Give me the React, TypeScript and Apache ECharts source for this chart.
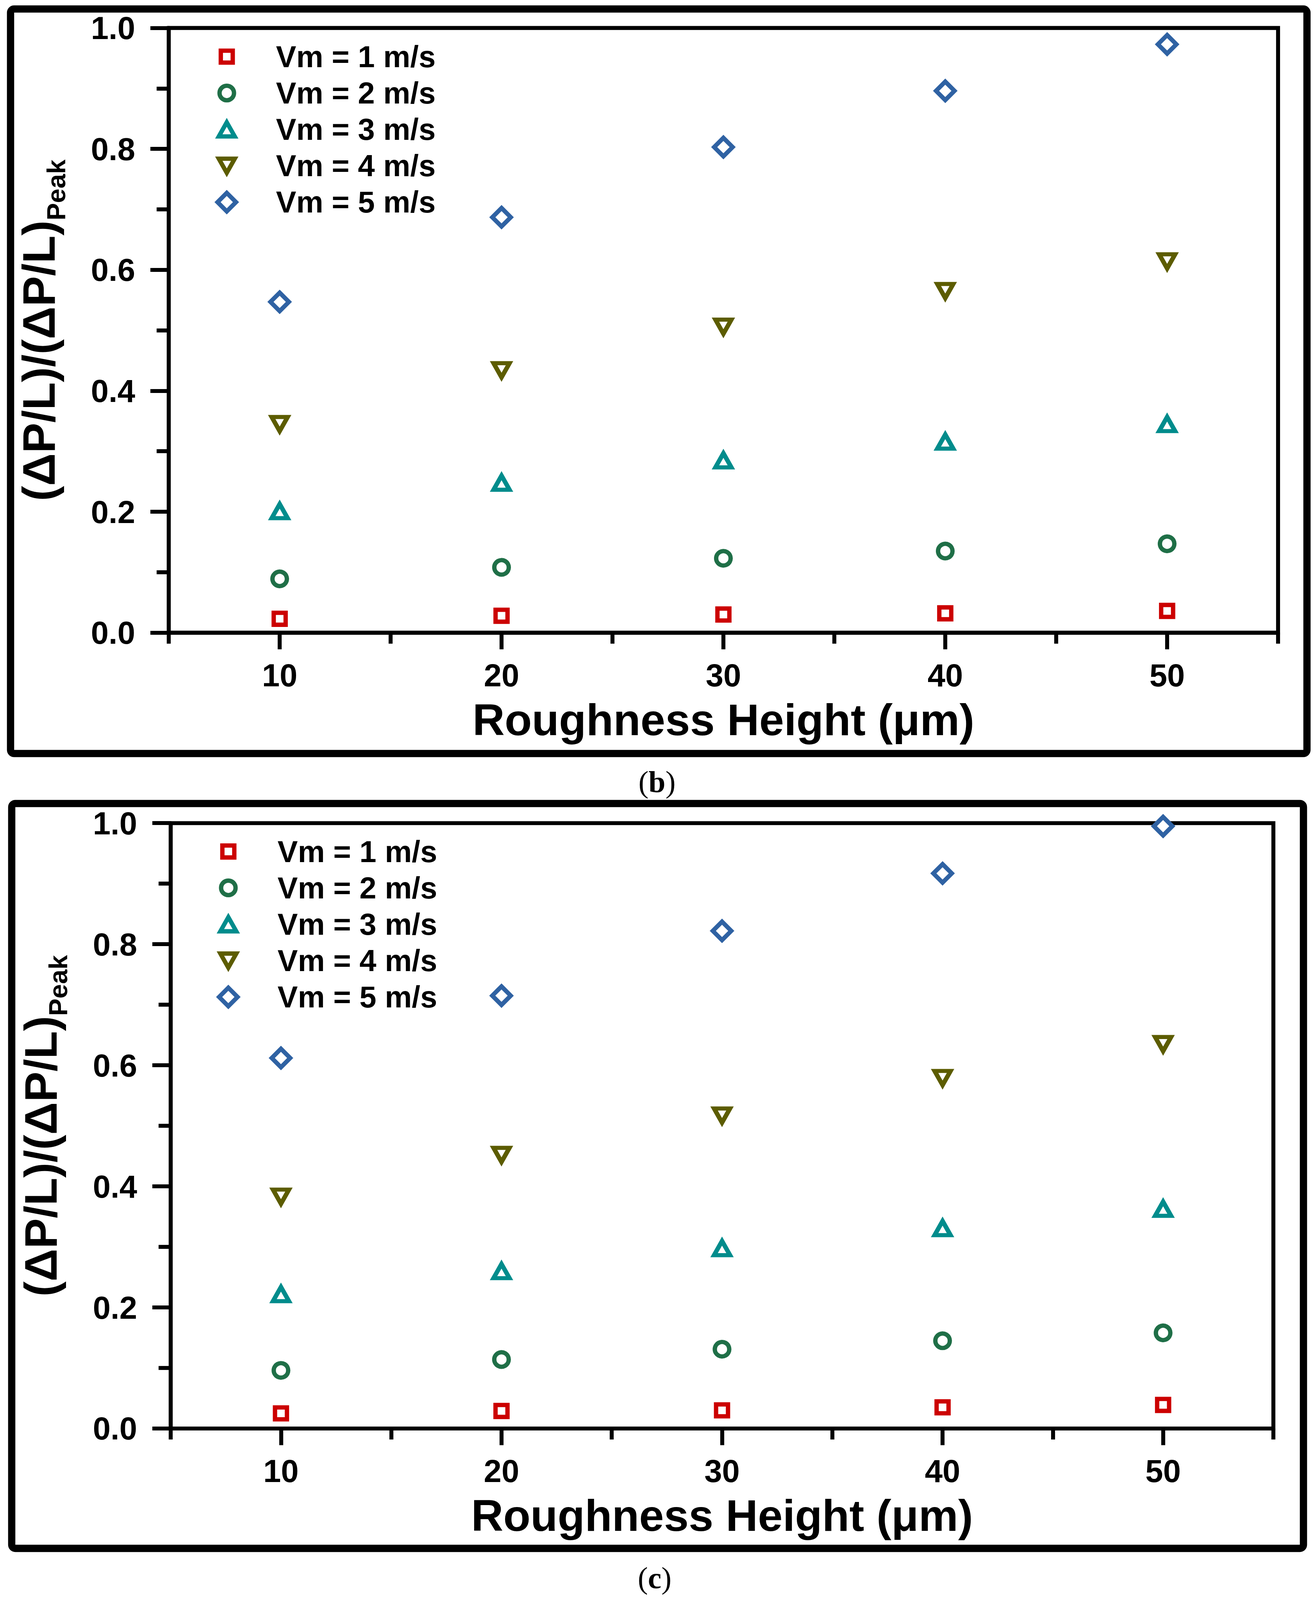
import React, { useEffect, useRef, useState } from "react";
import * as echarts from "echarts";

// ---------- data ----------
const roughness = [10, 20, 30, 40, 50];
const xLabelValues = [10, 20, 30, 40, 50];
const seriesNames = ["Vm = 1 m/s", "Vm = 2 m/s", "Vm = 3 m/s", "Vm = 4 m/s", "Vm = 5 m/s"];
const seriesColors = ["#cc0000", "#1f6f47", "#008c8c", "#5c5c00", "#2f62a3"];

// panel (b)
const panelB_vm1 = [0.023, 0.028, 0.030, 0.032, 0.036];
const panelB_vm2 = [0.089, 0.108, 0.123, 0.135, 0.147];
const panelB_vm3 = [0.201, 0.248, 0.285, 0.316, 0.345];
const panelB_vm4 = [0.345, 0.434, 0.506, 0.565, 0.614];
const panelB_vm5 = [0.547, 0.687, 0.803, 0.896, 0.973];

// panel (c)
const panelC_vm1 = [0.025, 0.029, 0.030, 0.035, 0.039];
const panelC_vm2 = [0.096, 0.114, 0.131, 0.145, 0.158];
const panelC_vm3 = [0.222, 0.260, 0.298, 0.331, 0.363];
const panelC_vm4 = [0.383, 0.452, 0.517, 0.579, 0.635];
const panelC_vm5 = [0.612, 0.715, 0.822, 0.917, 0.995];

const panelCaptions = ["b", "c"];
const xTitle = "Roughness Height (μm)";
const yTitleMain = "(ΔP/L)/(ΔP/L)";
const yTitleSub = "Peak";

// ---------- layout (reference pixel space 3364 x 4805) ----------
const REF_W = 3364;
const REF_H = 4805;
const SANS = "Liberation Sans, Arial, Helvetica, sans-serif";
const SERIF = "Liberation Serif, Times New Roman, serif";

const symbols = ["rect", "circle", "triangle", "triangle", "diamond"];
const symbolRotates = [0, 0, 0, 180, 0];
const symbolSizesRef: number[][] = [[33, 33], [40, 40], [44, 39], [44, 39], [51, 51]];

const panelLayouts = [
  {
    grid: { left: 432, top: 84, width: 2840, height: 1816 },
    legend: { left: 547, firstRowCenter: 170 },
    frame: { x: 27, y: 27, width: 3319, height: 2236 },
    caption: { x: 1682, y: 2349 },
  },
  {
    grid: { left: 437, top: 2472, width: 2823, height: 1818 },
    legend: { left: 551, firstRowCenter: 2557 },
    frame: { x: 30, y: 2413, width: 3307, height: 2237 },
    caption: { x: 1676, y: 4739 },
  },
];

const panelData = [
  [panelB_vm1, panelB_vm2, panelB_vm3, panelB_vm4, panelB_vm5],
  [panelC_vm1, panelC_vm2, panelC_vm3, panelC_vm4, panelC_vm5],
];

function makeIcon(kind: number, bw: number, bh: number, cx: number, cy: number, s: number) {
  const vb = `M0,0M${bw.toFixed(2)},${bh.toFixed(2)}`;
  const f = (v: number) => v.toFixed(2);
  if (kind === 0) {
    const h = 16.5 * s;
    return `path://${vb}M${f(cx - h)},${f(cy - h)}L${f(cx + h)},${f(cy - h)}L${f(cx + h)},${f(cy + h)}L${f(cx - h)},${f(cy + h)}Z`;
  }
  if (kind === 1) {
    const r = 20 * s;
    return `path://${vb}M${f(cx + r)},${f(cy)}A${f(r)},${f(r)},0,1,1,${f(cx - r)},${f(cy)}A${f(r)},${f(r)},0,1,1,${f(cx + r)},${f(cy)}Z`;
  }
  if (kind === 2) {
    const hw = 22 * s;
    const hh = 19.5 * s;
    return `path://${vb}M${f(cx)},${f(cy - hh)}L${f(cx + hw)},${f(cy + hh)}L${f(cx - hw)},${f(cy + hh)}Z`;
  }
  if (kind === 3) {
    const hw = 22 * s;
    const hh = 19.5 * s;
    return `path://${vb}M${f(cx - hw)},${f(cy - hh)}L${f(cx + hw)},${f(cy - hh)}L${f(cx)},${f(cy + hh)}Z`;
  }
  const d = 25.5 * s;
  return `path://${vb}M${f(cx)},${f(cy - d)}L${f(cx + d)},${f(cy)}L${f(cx)},${f(cy + d)}L${f(cx - d)},${f(cy)}Z`;
}

function buildOption(W: number, H: number) {
  const sx = W / REF_W;
  const sy = H / REF_H;
  const fs = (sx + sy) / 2;
  const LW = 11 * fs;
  const MARK_BW = 12 * fs;
  const lineStyle = { color: "#000", width: LW };

  const tickFont = 88 * fs;
  const titleFont = 123 * fs;
  const yMainFont = 126 * fs;
  const ySubFont = 72 * fs;
  const legendFont = 84 * fs;

  const grid: any[] = [];
  const xAxis: any[] = [];
  const yAxis: any[] = [];
  const legend: any[] = [];
  const series: any[] = [];
  const graphic: any[] = [];

  panelLayouts.forEach((p, pi) => {
    grid.push({
      left: p.grid.left * sx,
      top: p.grid.top * sy,
      width: p.grid.width * sx,
      height: p.grid.height * sy,
      show: true,
      borderColor: "#000",
      borderWidth: LW,
      backgroundColor: "transparent",
      containLabel: false,
    });
    xAxis.push({
      type: "value",
      gridIndex: pi,
      position: "bottom",
      offset: 0,
      min: 5,
      max: 55,
      name: xTitle,
      nameLocation: "middle",
      nameGap: 213 * sy - 0.142 * titleFont,
      nameTextStyle: { fontFamily: SANS, fontWeight: "bold", fontSize: titleFont, color: "#000" },
      axisLine: { show: true, onZero: false, lineStyle },
      axisTick: { show: true, inside: false, length: 50 * sy, customValues: xLabelValues, lineStyle },
      axisLabel: {
        show: true,
        customValues: xLabelValues,
        margin: 93 * sy - 0.142 * tickFont,
        fontFamily: SANS,
        fontWeight: "bold",
        fontSize: tickFont,
        color: "#000",
      },
      splitLine: { show: false },
    });
    xAxis.push({
      type: "value",
      gridIndex: pi,
      position: "bottom",
      offset: 0,
      min: 5,
      max: 55,
      interval: 10,
      axisLine: { show: false, onZero: false },
      axisTick: { show: true, inside: false, length: 33 * sy, lineStyle },
      axisLabel: { show: false },
      splitLine: { show: false },
    });
    yAxis.push({
      type: "value",
      gridIndex: pi,
      position: "left",
      min: 0,
      max: 1,
      interval: 0.2,
      name: `{a|${yTitleMain}}{b|${yTitleSub}}`,
      nameLocation: "middle",
      nameRotate: 90,
      nameGap: 333 * sx - 85 * fs,
      nameTextStyle: {
        fontFamily: SANS,
        fontWeight: "bold",
        color: "#000",
        fontSize: yMainFont,
        rich: {
          a: { fontFamily: SANS, fontWeight: "bold", fontSize: yMainFont, lineHeight: 170 * fs, color: "#000" },
          b: {
            fontFamily: SANS,
            fontWeight: "bold",
            fontSize: ySubFont,
            lineHeight: 70 * fs,
            verticalAlign: "bottom",
            color: "#000",
          },
        },
      },
      axisLine: { show: true, onZero: false, lineStyle },
      axisTick: { show: true, inside: false, length: 47 * sx, lineStyle },
      minorTick: { show: true, splitNumber: 2, length: 31 * sx, lineStyle },
      axisLabel: {
        show: true,
        margin: 86 * sx,
        formatter: (v: number) => v.toFixed(1),
        fontFamily: SANS,
        fontWeight: "bold",
        fontSize: tickFont,
        color: "#000",
      },
      splitLine: { show: false },
      minorSplitLine: { show: false },
    });

    const itemW = 149 * sx;
    const itemH = 56 * fs;
    const rowH = Math.max(itemH, legendFont);
    const pitch = 109 * sy;
    legend.push({
      show: true,
      orient: "vertical",
      left: p.legend.left * sx,
      top: p.legend.firstRowCenter * sy - rowH / 2,
      padding: 0,
      itemGap: pitch - rowH,
      itemWidth: itemW,
      itemHeight: itemH,
      selectedMode: false,
      symbolKeepAspect: true,
      textStyle: { fontFamily: SANS, fontWeight: "bold", fontSize: legendFont, lineHeight: legendFont, color: "#000" },
      data: seriesNames.map((name, i) => ({
        name,
        icon: makeIcon(i, itemW, itemH, 28 * sx, itemH / 2, fs),
        itemStyle: {
          color: "#ffffff",
          borderColor: seriesColors[i],
          borderWidth: MARK_BW,
          borderJoin: "miter",
          borderMiterLimit: 10,
        },
      })),
    });

    panelData[pi].forEach((vals, si) => {
      series.push({
        type: "scatter",
        name: seriesNames[si],
        xAxisIndex: pi * 2,
        yAxisIndex: pi,
        symbol: symbols[si],
        symbolRotate: symbolRotates[si],
        symbolSize: [symbolSizesRef[si][0] * fs, symbolSizesRef[si][1] * fs],
        silent: true,
        clip: false,
        itemStyle: {
          color: "#ffffff",
          borderColor: seriesColors[si],
          borderWidth: MARK_BW,
          borderJoin: "miter",
          borderMiterLimit: 10,
          opacity: 1,
        },
        emphasis: { disabled: true },
        data: roughness.map((x, k) => [x, vals[k]]),
      });
    });

    graphic.push({
      type: "rect",
      silent: true,
      shape: {
        x: p.frame.x * sx,
        y: p.frame.y * sy,
        width: p.frame.width * sx,
        height: p.frame.height * sy,
        r: 10 * fs,
      },
      style: { fill: "none", stroke: "#000", lineWidth: 20 * fs },
      z: 100,
    });
    const capFont = 84 * fs;
    graphic.push({
      type: "text",
      silent: true,
      x: p.caption.x * sx,
      y: p.caption.y * sy,
      style: {
        text: `{p|(}{l|${panelCaptions[pi]}}{p|)}`,
        align: "center",
        verticalAlign: "middle",
        fontFamily: SERIF,
        fontSize: capFont,
        fill: "#000",
        rich: {
          p: { fontFamily: SERIF, fontSize: capFont, fontWeight: "normal", fill: "#000" },
          l: { fontFamily: SERIF, fontSize: capFont, fontWeight: "bold", fill: "#000" },
        },
      },
    });
  });

  return {
    animation: false,
    backgroundColor: "#ffffff",
    grid,
    xAxis,
    yAxis,
    legend,
    series,
    graphic,
  };
}

function viewportSize() {
  const w = window.innerWidth > 100 ? window.innerWidth : REF_W;
  const h = window.innerHeight > 100 ? window.innerHeight : REF_H;
  return { w: Math.min(w, REF_W), h: Math.min(h, REF_H) };
}

export default function App() {
  const ref = useRef<HTMLDivElement | null>(null);
  const [size] = useState(viewportSize);
  useEffect(() => {
    if (!ref.current) return;
    const chart = echarts.init(ref.current, undefined, { renderer: "svg" });
    chart.setOption(buildOption(size.w, size.h) as any);
    return () => {
      chart.dispose();
    };
  }, [size]);
  return (
    <div
      ref={ref}
      style={{ position: "absolute", left: 0, top: 0, width: size.w, height: size.h, background: "#fff" }}
    />
  );
}
